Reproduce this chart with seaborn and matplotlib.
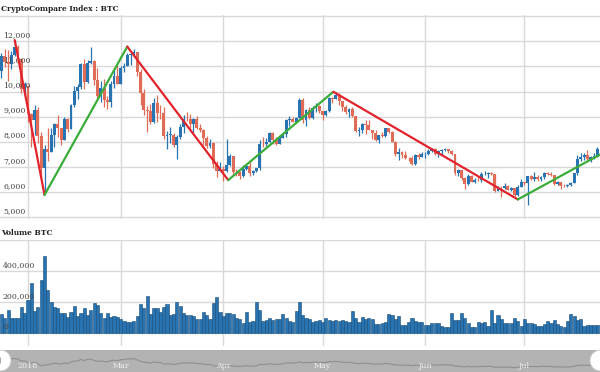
import numpy as np
import pandas as pd
import seaborn as sns
import matplotlib.pyplot as plt
import matplotlib.dates as mdates
import matplotlib.transforms as mtransforms

# daily BTC index, 24 Jan 2018 - 23 Jul 2018 (open = previous close)
first_day = "2018-01-24"
first_open = 10830
close = [11400, 11170, 11100, 11450, 11760, 11290, 10110, 10230,
         9110, 8870, 9250, 8220, 6940, 7700, 7580, 8270, 8690, 8540, 8070, 8890, 8520, 9450,
         10030, 10170, 11100, 10380, 11150, 11220, 10440, 9830, 10150, 9670, 9600, 10310, 10600, 10320,
         10930, 11030, 11450, 11500, 11570, 10770, 9960, 9280, 9240, 8790, 9550, 9150, 9130, 8220,
         8270, 8280, 7870, 8200, 8600, 8920, 8900, 8720, 8920, 8550, 8450, 8140, 7810, 7950, 7100,
         6850, 6930,
         6830, 7080, 7420, 6800, 6780, 6620, 6900, 7020, 6770, 6830, 6940, 7920, 7890, 8000, 8350,
         8060, 7890, 8160, 8290, 8850, 8920, 8800, 8940, 9650, 8870, 9280, 8930, 9350, 9410, 9240,
         9080, 9230, 9740, 9700, 9860, 9620, 9370, 9190, 9320, 9030, 8430, 8470, 8690, 8680, 8480,
         8340, 8060, 8250, 8230, 8530, 8400, 8000, 7520, 7590, 7470, 7350, 7340, 7110, 7470, 7390,
         7500,
         7530, 7640, 7720, 7500, 7630, 7650, 7690, 7620, 7500, 6770, 6880, 6550, 6300, 6640, 6400,
         6490, 6460, 6700, 6730, 6760, 6720, 6050, 6170, 6150, 6250, 6090, 6150, 5870, 6200, 6390,
         6350, 6620, 6510, 6600, 6530, 6600, 6760, 6710, 6660, 6300, 6390, 6250, 6230, 6270, 6360,
         6740, 7320, 7380, 7470, 7330, 7400, 7400, 7720]
high = [11520, 11700, 11640, 11620, 12050, 11870, 11300, 10380,
        10260, 9150, 9480, 9400, 8400, 7860, 8540, 8560, 8740, 9050, 8560, 8980, 8950, 9520,
        10230, 10300, 11130, 11280, 11260, 11780, 11250, 10920, 10400, 10500, 9810, 10420, 10860, 11060,
        11000, 11150, 11520, 11530, 11700, 11580, 10900, 10100, 9420, 9500, 9740, 9880, 9480, 9370,
        8420, 8600, 8350, 8260, 8700, 9050, 9180, 9100, 8940, 9030, 8690, 8490, 8210, 8100, 7970,
        7250, 7200,
        7050, 8100, 7520, 7430, 6920, 6850, 7070, 7110, 7180, 6880, 6970, 8050, 8200, 8160, 8400,
        8400, 8170, 8230, 8300, 8900, 9030, 9000, 9000, 9730, 9760, 9300, 9370, 9440, 9530, 9450,
        9240, 9270, 9800, 9770, 9980, 9960, 9620, 9470, 9350, 9380, 9030, 8600, 8750, 8860, 8860,
        8480, 8450, 8270, 8370, 8560, 8560, 8420, 8030, 7730, 7640, 7620, 7410, 7440, 7530, 7570,
        7610,
        7600, 7690, 7760, 7760, 7650, 7700, 7750, 7700, 7680, 7500, 6920, 6890, 6610, 6700, 6660,
        6540, 6580, 6800, 6840, 6810, 6790, 6730, 6250, 6250, 6340, 6270, 6180, 6170, 6280, 6510,
        6390, 6650, 6680, 6800, 6680, 6640, 6790, 6780, 6800, 6680, 6420, 6390, 6330, 6320, 6400,
        6760, 7460, 7560, 7560, 7680, 7450, 7560, 7800]
low = [10530, 10980, 10400, 10900, 11420, 11150, 9960, 9740,
       8800, 7800, 8250, 7950, 6650, 5950, 7230, 7580, 7800, 8200, 7860, 8060, 8370, 8520,
       9380, 9700, 10100, 10120, 10330, 11090, 10270, 9730, 9590, 9380, 9320, 9400, 10150, 10300,
       10310, 10780, 11000, 11050, 11390, 10600, 9460, 9080, 8380, 8720, 8750, 8800, 8890, 8120,
       7700, 7940, 7780, 7320, 8100, 8360, 8810, 8480, 8290, 8510, 8370, 7850, 7750, 7730, 6940,
       6600, 6830,
       6450, 6800, 7050, 6730, 6620, 6530, 6610, 6880, 6620, 6660, 6800, 6860, 7770, 7820, 8000,
       7900, 7860, 7890, 8130, 8200, 8620, 8780, 8790, 8930, 8740, 8640, 8920, 8920, 9190, 9130,
       8850, 9040, 9180, 9530, 9690, 9470, 9230, 9100, 8990, 9000, 8370, 8220, 8360, 8300, 8450,
       8120, 8030, 7940, 8170, 8200, 8330, 7990, 7450, 7280, 7340, 7330, 7250, 7080, 7060, 7300,
       7380,
       7370, 7490, 7610, 7470, 7390, 7480, 7630, 7560, 7480, 6680, 6650, 6470, 6130, 6290, 6380,
       6360, 6440, 6400, 6680, 6560, 6690, 6000, 6050, 5790, 6110, 6070, 6020, 5850, 5820, 6180,
       6270, 5480, 6480, 6450, 6450, 6450, 6530, 6680, 6630, 6280, 6290, 6100, 6180, 6210, 6240,
       6340, 6680, 7250, 7290, 7290, 7210, 7330, 7380]
volume_k = [120, 97, 148, 99, 97, 94, 166, 127, 213, 325, 144, 166, 342, 497, 277, 202, 166, 159, 127, 127,
            105, 138, 174, 111, 131, 159, 116, 148, 191, 180, 127, 97, 127, 105, 111, 105, 88, 78, 71, 71,
            78, 111, 185, 159, 239, 120, 159, 159, 138, 166, 187, 116, 122, 202, 174, 131, 116, 116, 111, 88,
            88, 138, 116, 90, 191, 230, 138, 111, 127, 127, 122, 99, 88, 63, 138, 71, 78, 202, 148, 78,
            82, 97, 84, 88, 88, 120, 97, 78, 69, 144, 202, 116, 97, 88, 71, 78, 84, 71, 97, 82,
            78, 84, 78, 82, 78, 71, 144, 97, 69, 105, 90, 99, 88, 60, 60, 62, 71, 120, 113, 88,
            112, 52, 52, 71, 97, 78, 74, 71, 52, 52, 65, 65, 62, 45, 37, 41, 130, 84, 84, 127,
            99, 65, 41, 41, 71, 62, 71, 45, 146, 65, 116, 88, 65, 65, 65, 99, 78, 45, 88, 62,
            65, 60, 45, 45, 60, 78, 65, 82, 60, 45, 41, 78, 120, 112, 82, 88, 45, 52, 52, 52, 52]

# hand drawn trend lines (turning points)
trend_dates = ["2018-01-28 00:00", "2018-02-06 00:00", "2018-03-03 00:00", "2018-04-02 12:00",
               "2018-05-04 06:00", "2018-06-29 00:00", "2018-07-23 20:00"]
trend_prices = [12050, 5880, 11790, 6470, 9990, 5700, 7490]

month_ticks = ["2018-02-01", "2018-03-01", "2018-04-01", "2018-05-01", "2018-06-01", "2018-07-01"]
month_labels = ["2018", "Mar", "Apr", "May", "Jun", "Jul"]
price_ticks = [5000, 6000, 7000, 8000, 9000, 10000, 11000, 12000]
volume_ticks = [0, 200000, 400000]

up_col = "#2874b2"
down_col = "#e06c58"
grid_col = "#d9d9d9"
text_col = "#444444"

sns.set_theme(style="white")
plt.rcParams['font.family'] = ['DejaVu Serif']

df = pd.DataFrame({'date': pd.date_range(first_day, periods=len(close), freq='D'),
                   'close': close, 'high': high, 'low': low,
                   'volume': np.array(volume_k) * 1000})
df['open'] = [first_open] + close[:-1]
df['x'] = mdates.date2num(df['date'])
df['up'] = df['close'] >= df['open']
colors = np.where(df['up'], up_col, down_col)

W, H = 600, 372
fig = plt.figure(figsize=(W / 100, H / 100), dpi=100)
fig.patch.set_facecolor('white')


def add_ax(top, bottom):
    return fig.add_axes([0, 1 - bottom / H, 1, (bottom - top) / H])


ax_p = add_ax(15, 219)
ax_v = add_ax(240, 346)
ax_n = add_ax(350, 372)

x0 = df['x'].iloc[0] - 0.45
x1 = x0 + W / 3.31
month_x = mdates.date2num(pd.to_datetime(month_ticks))
trend_x = mdates.date2num(pd.to_datetime(trend_dates, format='ISO8601'))

for ax in (ax_p, ax_v, ax_n):
    ax.set_xlim(x0, x1)
    for s in ax.spines.values():
        s.set_visible(False)

# price panel
for t in price_ticks + [13000]:
    ax_p.axhline(t, color=grid_col, lw=1, zorder=0)
for mx in month_x:
    ax_p.axvline(mx, color=grid_col, lw=1, zorder=0)
ax_p.vlines(df['x'], df['low'], df['high'], colors=colors, lw=0.9, zorder=2)
ax_p.bar(df['x'], (df['close'] - df['open']).abs().clip(lower=25),
         bottom=df[['open', 'close']].min(axis=1), width=0.88, color=colors,
         linewidth=0, zorder=3)
for i in range(len(trend_x) - 1):
    seg_y = trend_prices[i:i + 2]
    c = "#e3232c" if seg_y[1] < seg_y[0] else "#3aac3a"
    sns.lineplot(x=trend_x[i:i + 2], y=seg_y, color=c, lw=1.6, ax=ax_p, zorder=4)
ax_p.set_ylim(4920, 13050)

lab_tr = mtransforms.offset_copy(ax_p.get_yaxis_transform(), fig=fig, x=0, y=1.5, units='points')
for t in price_ticks:
    ax_p.text(0.005, t, f"{t:,}", transform=lab_tr, fontsize=5.6, color=text_col, va='bottom', ha='left')
fig.text(1 / W, 1 - 9 / H, "CryptoCompare Index : BTC", fontsize=5.4, fontweight='bold',
         color='#222222', va='center', ha='left')

# volume panel
for t in volume_ticks + [600000]:
    ax_v.axhline(t, color=grid_col, lw=1, zorder=0)
for mx in month_x:
    ax_v.axvline(mx, color=grid_col, lw=1, zorder=0)
sns.barplot(data=df, x='x', y='volume', native_scale=True, color=up_col, saturation=1,
            edgecolor="#174a74", linewidth=0.4, width=0.95, ax=ax_v, zorder=2)
ax_v.set_xlim(x0, x1)
ax_v.set_ylim(-83900, 600000)
lab_tr_v = mtransforms.offset_copy(ax_v.get_yaxis_transform(), fig=fig, x=0, y=1.5, units='points')
for t in volume_ticks:
    ax_v.text(0.005, t, f"{t:,}", transform=lab_tr_v, fontsize=5.6, color=text_col, va='bottom', ha='left')
fig.text(1 / W, 1 - 233 / H, "Volume BTC", fontsize=5.4, fontweight='bold',
         color='#222222', va='center', ha='left')

# navigator strip
ax_n.set_facecolor("#b3b3b3")
sns.lineplot(data=df, x='x', y='close', color="#8f8f8f", lw=0.8, ax=ax_n)
ax_n.set_ylim(3100, 17100)
for mx, lab in zip(month_x, month_labels):
    ax_n.text(mx, 0.28, lab, transform=ax_n.get_xaxis_transform(), fontsize=5.8,
              color="#eeeeee", ha='center', va='center')
for hx in (0.0, 1.0):
    ax_n.plot([hx], [0.55], marker='o', ms=15, mfc='white', mec='#cfcfcf', mew=0.6,
              transform=ax_n.transAxes, clip_on=False, zorder=5)
    ax_n.plot([hx], [0.55], marker='|', ms=5, mec='#999999', mew=0.6,
              transform=ax_n.transAxes, clip_on=False, zorder=6)

for ax in (ax_p, ax_v, ax_n):
    ax.set_xlabel('')
    ax.set_ylabel('')
    ax.set_xticks([])
    ax.set_yticks([])
    if ax.get_legend() is not None:
        ax.get_legend().remove()

fig.savefig("out.png", dpi=100)
